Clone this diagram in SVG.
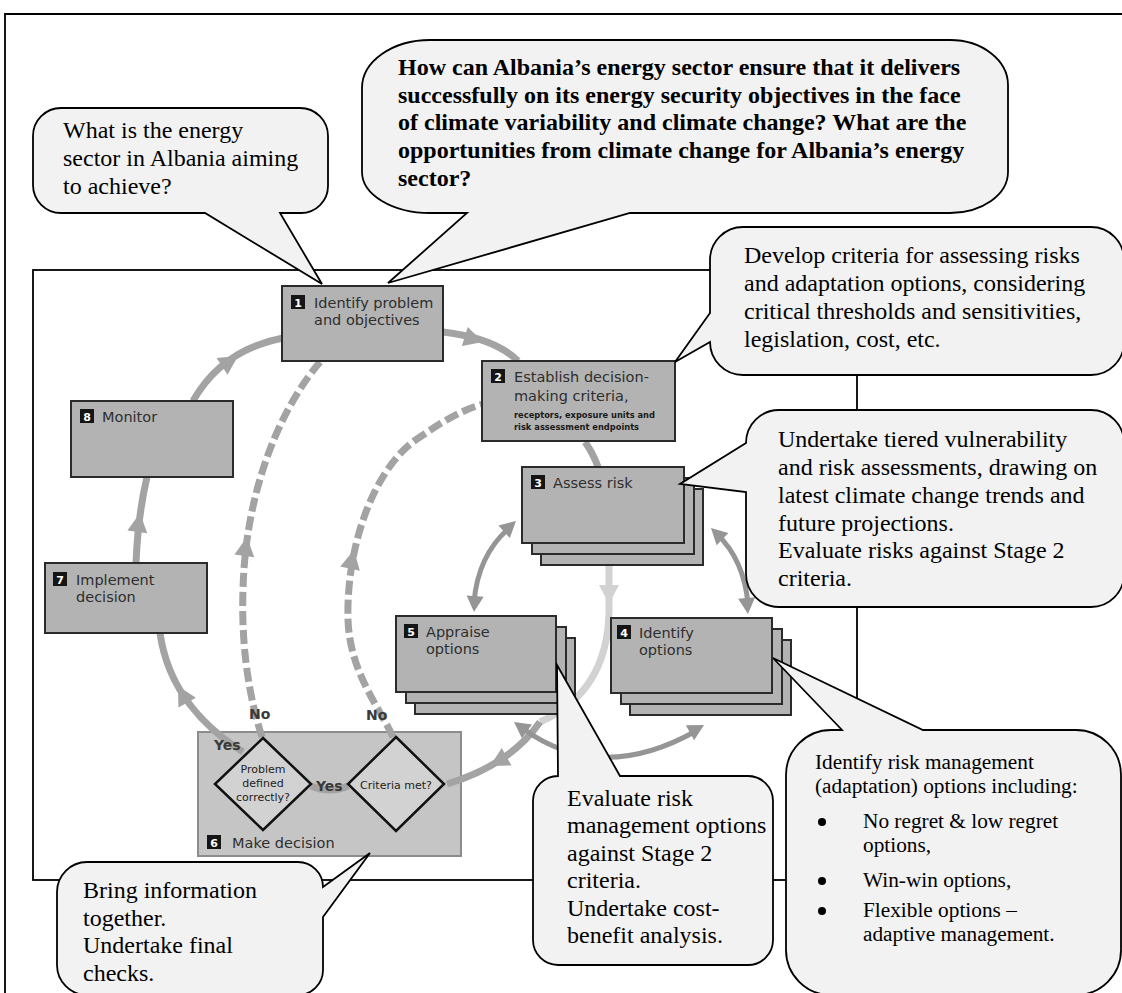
<svg xmlns="http://www.w3.org/2000/svg" xmlns:xlink="http://www.w3.org/1999/xlink" width="1122" height="993" viewBox="0 0 1122 993">
<style>
.cal{fill:#f2f2f2;stroke:#000;stroke-width:1.8;stroke-linejoin:miter}
.ct{font-family:"Liberation Serif","Times New Roman",serif;font-size:24px;fill:#000}
.ctb{font-weight:bold}
.cts{font-size:21.3px}
.box{fill:#b3b3b3;stroke:#2b2b2b;stroke-width:2}
.st{font-family:"DejaVu Sans","Open Sans",sans-serif;font-size:14.5px;fill:#2e2e2e}
.sm{font-family:"DejaVu Sans","Open Sans",sans-serif;font-size:8.3px;font-weight:bold;fill:#1a1a1a}
.badge{fill:#151515}
.bn{font-family:"DejaVu Sans","Open Sans",sans-serif;font-weight:bold;font-size:11px;fill:#fff;text-anchor:middle}
.lbl{font-family:"DejaVu Sans","Open Sans",sans-serif;font-weight:bold;font-size:14px;fill:#3a3a3a}
.dt{font-family:"DejaVu Sans","Open Sans",sans-serif;font-size:11px;fill:#222;text-anchor:middle}
.dia{fill:#d2d2d2;stroke:#111;stroke-width:2.5}
.ln{fill:none;stroke:#a3a3a3;stroke-width:7}
.dash{stroke-dasharray:14 5}
.dbl{fill:none;stroke:#959595;stroke-width:5}
.lt{fill:none;stroke:#d2d2d2;stroke-width:7}
.ahm{fill:#a3a3a3}
.ahd{fill:#959595}
.ahl{fill:#d2d2d2}
.frame{fill:none;stroke:#000;stroke-width:1.8}
</style>
<defs>
<path id="ah" d="M0,0 L-19,-10 L-19,10 Z"/>
<path id="ahs" d="M0,0 L-16,-8.5 L-16,8.5 Z"/>
</defs>

<g id="frames">
<path class="frame" d="M5,993 V14 H1122"/>
<rect class="frame" x="33" y="270" width="824" height="610"/>
</g>

<g id="stage6">
<rect x="198" y="732" width="263" height="124" fill="#c5c5c5" stroke="#8c8c8c" stroke-width="2"/>
<rect class="badge" x="207" y="835" width="14" height="14"/>
<text class="bn" x="214" y="846.5">6</text>
<text class="st" x="232" y="848">Make decision</text>
</g>

<g id="connectors">
<path class="ln" d="M443,332 Q495,338 518,361"/>
<use href="#ah" class="ahm" transform="translate(483,342) rotate(17)"/>
<path class="ln" d="M585,442 Q593,453 598,467"/>
<path class="lt" d="M609,566 L609,612 C608,660 590,700 540,722"/>
<use href="#ah" class="ahl" transform="translate(609,604) rotate(90)"/>
<path class="ln" d="M540,722 Q510,765 447,784"/>
<use href="#ah" class="ahm" transform="translate(490,766) rotate(151)"/>
<path class="dbl" d="M508,529 Q478,556 474,602"/>
<use href="#ahs" class="ahd" transform="translate(516,521) rotate(-42)"/>
<use href="#ahs" class="ahd" transform="translate(474,612) rotate(94)"/>
<path class="dbl" d="M717,534 Q744,560 748,604"/>
<use href="#ahs" class="ahd" transform="translate(711,528) rotate(-136)"/>
<use href="#ahs" class="ahd" transform="translate(748,614) rotate(85)"/>
<path class="dbl" d="M522,728 Q600,785 696,731"/>
<use href="#ahs" class="ahd" transform="translate(514,722) rotate(-144)"/>
<use href="#ahs" class="ahd" transform="translate(704,725) rotate(-29)"/>
<path class="ln" d="M348,786 Q330,794 311,786"/>
<path class="ln" d="M243,752 C205,728 168,690 160,633"/>
<use href="#ah" class="ahm" transform="translate(178,686) rotate(-119)"/>
<path class="ln" d="M136,563 Q138,515 147,477"/>
<use href="#ah" class="ahm" transform="translate(140,513) rotate(-82)"/>
<path class="ln" d="M193,401 Q222,350 283,338"/>
<use href="#ah" class="ahm" transform="translate(238,356) rotate(-33)"/>
<path class="ln dash" d="M262,737 C250,700 241,650 243,590 C245,500 275,415 320,362"/>
<use href="#ah" class="ahm" transform="translate(247,537) rotate(-82)"/>
<path class="ln dash" d="M393,737 C378,705 350,672 348,620 C346,545 375,465 420,437 C445,420 462,410 483,404"/>
<use href="#ah" class="ahm" transform="translate(354,550) rotate(-78)"/>
</g>

<g id="stage1">
<rect class="box" x="282" y="286" width="161" height="75"/>
<rect class="badge" x="291" y="295" width="14" height="14"/>
<text class="bn" x="298" y="306.5">1</text>
<text class="st" x="314" y="308">Identify problem</text>
<text class="st" x="314" y="325">and objectives</text>
</g>

<g id="stage2">
<rect class="box" x="482" y="361" width="193" height="80"/>
<rect class="badge" x="491" y="369" width="14" height="14"/>
<text class="bn" x="498" y="380.5">2</text>
<text class="st" x="514" y="382">Establish decision-</text>
<text class="st" x="514" y="401">making criteria,</text>
<text class="sm" x="514" y="418">receptors, exposure units and</text>
<text class="sm" x="514" y="430">risk assessment endpoints</text>
</g>

<g id="stage3">
<rect class="box" x="541" y="489" width="162" height="76"/>
<rect class="box" x="532" y="478" width="162" height="76"/>
<rect class="box" x="522" y="467" width="162" height="76"/>
<rect class="badge" x="531" y="475" width="14" height="14"/>
<text class="bn" x="538" y="486.5">3</text>
<text class="st" x="553" y="488">Assess risk</text>
</g>

<g id="stage5">
<rect class="box" x="415" y="638" width="160" height="76"/>
<rect class="box" x="406" y="627" width="160" height="76"/>
<rect class="box" x="396" y="616" width="160" height="76"/>
<rect class="badge" x="404" y="624" width="14" height="14"/>
<text class="bn" x="411" y="635.5">5</text>
<text class="st" x="426" y="637">Appraise</text>
<text class="st" x="426" y="654">options</text>
</g>

<g id="stage4">
<rect class="box" x="630" y="640" width="161" height="75"/>
<rect class="box" x="621" y="629" width="161" height="75"/>
<rect class="box" x="611" y="618" width="161" height="75"/>
<rect class="badge" x="617" y="625" width="14" height="14"/>
<text class="bn" x="624" y="636.5">4</text>
<text class="st" x="639" y="638">Identify</text>
<text class="st" x="639" y="655">options</text>
</g>

<g id="stage8">
<rect class="box" x="71" y="401" width="162" height="76"/>
<rect class="badge" x="80" y="409" width="14" height="14"/>
<text class="bn" x="87" y="420.5">8</text>
<text class="st" x="102" y="422">Monitor</text>
</g>

<g id="stage7">
<rect class="box" x="45" y="563" width="162" height="70"/>
<rect class="badge" x="53" y="572" width="14" height="14"/>
<text class="bn" x="60" y="583.5">7</text>
<text class="st" x="76" y="585">Implement</text>
<text class="st" x="76" y="602">decision</text>
</g>

<g id="decision-problem">
<polygon class="dia" points="263,738 311,784 263,830 215,784"/>
<text class="dt" x="263" y="773">Problem</text>
<text class="dt" x="263" y="787">defined</text>
<text class="dt" x="263" y="801">correctly?</text>
</g>

<g id="decision-criteria">
<polygon class="dia" points="396,737 444,784 396,831 348,784"/>
<text class="dt" x="396" y="789">Criteria met?</text>
</g>

<g id="labels">
<text class="lbl" x="214" y="750">Yes</text>
<text class="lbl" x="316" y="791">Yes</text>
<text class="lbl" x="249" y="719">No</text>
<text class="lbl" x="366" y="720">No</text>
</g>

<g id="callout-aim">
<path class="cal" d="M61,108 H300 A28,28 0 0 1 328,136 V186 A27,27 0 0 1 301,213 H280 L322,284 L205,213 H61 A28,28 0 0 1 33,185 V136 A28,28 0 0 1 61,108 Z"/>
<text class="ct" x="63" y="138">What is the energy</text>
<text class="ct" x="63" y="166">sector in Albania aiming</text>
<text class="ct" x="63" y="194">to achieve?</text>
</g>

<g id="callout-question">
<path class="cal" d="M430,40 H950 A58,45 0 0 1 1008,85 V172 A58,41 0 0 1 950,213 H630 L388,283 L467,213 H430 A68,41 0 0 1 362,172 V88 A68,48 0 0 1 430,40 Z"/>
<text class="ct ctb" x="398" y="75">How can Albania’s energy sector ensure that it delivers</text>
<text class="ct ctb" x="398" y="103">successfully on its energy security objectives in the face</text>
<text class="ct ctb" x="398" y="130">of climate variability and climate change? What are the</text>
<text class="ct ctb" x="398" y="158">opportunities from climate change for Albania’s energy</text>
<text class="ct ctb" x="398" y="186">sector?</text>
</g>

<g id="callout-criteria">
<path class="cal" d="M743,227 H1091 A33,33 0 0 1 1124,260 V342 A33,33 0 0 1 1091,375 H743 A33,33 0 0 1 710,342 L675,362 L710,313 V260 A33,33 0 0 1 743,227 Z"/>
<text class="ct" x="744" y="263">Develop criteria for assessing risks</text>
<text class="ct" x="744" y="291">and adaptation options, considering</text>
<text class="ct" x="744" y="319">critical thresholds and sensitivities,</text>
<text class="ct" x="744" y="347">legislation, cost, etc.</text>
</g>

<g id="callout-risk">
<path class="cal" d="M779,410 H1091 A33,33 0 0 1 1124,443 V574 A33,33 0 0 1 1091,607 H779 A33,33 0 0 1 746,574 V492 L680,484 L746,443 A33,33 0 0 1 779,410 Z"/>
<text class="ct" x="778" y="447">Undertake tiered vulnerability</text>
<text class="ct" x="778" y="475">and risk assessments, drawing on</text>
<text class="ct" x="778" y="503">latest climate change trends and</text>
<text class="ct" x="778" y="531">future projections.</text>
<text class="ct" x="778" y="558">Evaluate risks against Stage 2</text>
<text class="ct" x="778" y="586">criteria.</text>
</g>

<g id="callout-appraise">
<path class="cal" d="M533,801 A25,25 0 0 1 558,776 L557,665 L620,776 H748 A25,25 0 0 1 773,801 V940 A25,25 0 0 1 748,965 H558 A25,25 0 0 1 533,940 Z"/>
<text class="ct" x="567" y="806">Evaluate risk</text>
<text class="ct" x="567" y="833">management options</text>
<text class="ct" x="567" y="861">against Stage 2</text>
<text class="ct" x="567" y="888">criteria.</text>
<text class="ct" x="567" y="916">Undertake cost-</text>
<text class="ct" x="567" y="943">benefit analysis.</text>
</g>

<g id="callout-options">
<path class="cal" d="M786,775 A45,45 0 0 1 831,730 H842 L773,658 L923,730 H1076 A45,45 0 0 1 1121,775 V950 A45,45 0 0 1 1076,995 H831 A45,45 0 0 1 786,950 Z"/>
<text class="ct cts" x="815" y="769">Identify risk management</text>
<text class="ct cts" x="815" y="793">(adaptation) options including:</text>
<circle cx="822" cy="822" r="4"/>
<text class="ct cts" x="863" y="828">No regret &amp; low regret</text>
<text class="ct cts" x="863" y="852">options,</text>
<circle cx="822" cy="881" r="4"/>
<text class="ct cts" x="863" y="887">Win-win options,</text>
<circle cx="822" cy="911" r="4"/>
<text class="ct cts" x="863" y="917">Flexible options –</text>
<text class="ct cts" x="863" y="941">adaptive management.</text>
</g>

<g id="callout-decision">
<path class="cal" d="M87,862 H298 A25,25 0 0 1 323,887 L370,853 L323,917 V970 A25,25 0 0 1 298,995 H87 A30,30 0 0 1 57,965 V892 A30,30 0 0 1 87,862 Z"/>
<text class="ct" x="83" y="898">Bring information</text>
<text class="ct" x="83" y="926">together.</text>
<text class="ct" x="83" y="953">Undertake final</text>
<text class="ct" x="83" y="981">checks.</text>
</g>
</svg>
